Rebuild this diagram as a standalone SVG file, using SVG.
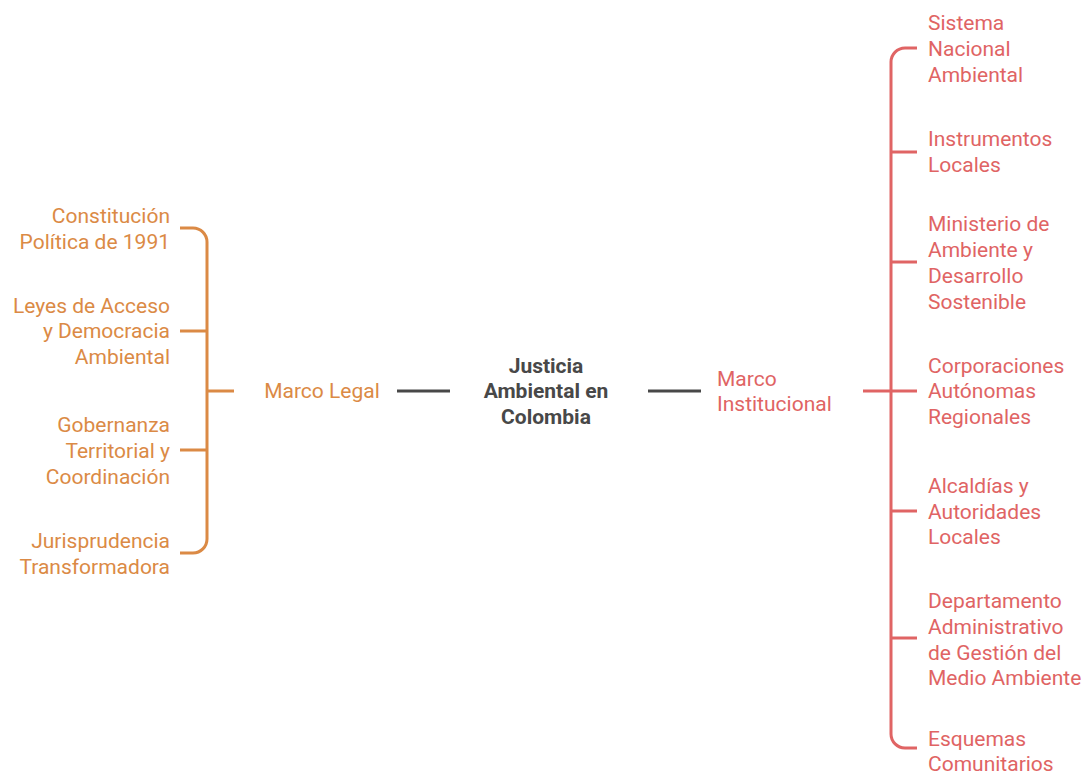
<svg xmlns="http://www.w3.org/2000/svg" width="1086" height="772" viewBox="0 0 1086 772">
<style>
text{font-family:Roboto,"Liberation Sans",sans-serif;font-size:21px;dominant-baseline:central}
.o{fill:#DB8A45}
.r{fill:#E06464}
.c{fill:#484848;font-weight:bold}
.lo{stroke:#DB8A45;stroke-width:3;fill:none}
.lr{stroke:#E06464;stroke-width:3;fill:none}
.lc{stroke:#484848;stroke-width:3;fill:none}
</style>
<rect width="1086" height="772" fill="#fff"/>
<g id="connectors">
<path class="lo" d="M180,228 H193 A14,14 0 0 1 207,242 V539 A14,14 0 0 1 193,553 H180"/>
<path class="lo" d="M180,331 H207 M180,450 H207 M207,391 H234"/>
<path class="lc" d="M397,391 H450 M648,391 H701"/>
<path class="lr" d="M917,48 H905 A14,14 0 0 0 891,62 V734 A14,14 0 0 0 905,748 H917"/>
<path class="lr" d="M891,152 H917 M891,262 H917 M863,391 H917 M891,511 H917 M891,638 H917"/>
</g>
<g id="center"><text class="c" text-anchor="middle" x="546" y="366">Justicia</text><text class="c" text-anchor="middle" x="546" y="391">Ambiental en</text><text class="c" text-anchor="middle" x="546" y="417">Colombia</text></g>
<g id="marco-legal"><text class="o" text-anchor="middle" x="322" y="391">Marco Legal</text></g>
<g id="marco-institucional"><text class="r" x="717" y="379">Marco</text><text class="r" x="717" y="404">Institucional</text></g>
<g id="constitucion" text-anchor="end"><text class="o" x="170" y="216">Constitución</text><text class="o" x="170" y="242">Política de 1991</text></g>
<g id="leyes" text-anchor="end"><text class="o" x="170" y="306">Leyes de Acceso</text><text class="o" x="170" y="331">y Democracia</text><text class="o" x="170" y="357">Ambiental</text></g>
<g id="gobernanza" text-anchor="end"><text class="o" x="170" y="425">Gobernanza</text><text class="o" x="170" y="451">Territorial y</text><text class="o" x="170" y="477">Coordinación</text></g>
<g id="jurisprudencia" text-anchor="end"><text class="o" x="170" y="541">Jurisprudencia</text><text class="o" x="170" y="567">Transformadora</text></g>
<g id="sina"><text class="r" x="928" y="23">Sistema</text><text class="r" x="928" y="49">Nacional</text><text class="r" x="928" y="75">Ambiental</text></g>
<g id="instrumentos"><text class="r" x="928" y="139">Instrumentos</text><text class="r" x="928" y="165">Locales</text></g>
<g id="ministerio"><text class="r" x="928" y="224">Ministerio de</text><text class="r" x="928" y="250">Ambiente y</text><text class="r" x="928" y="276">Desarrollo</text><text class="r" x="928" y="302">Sostenible</text></g>
<g id="corporaciones"><text class="r" x="928" y="366">Corporaciones</text><text class="r" x="928" y="391">Autónomas</text><text class="r" x="928" y="417">Regionales</text></g>
<g id="alcaldias"><text class="r" x="928" y="486">Alcaldías y</text><text class="r" x="928" y="512">Autoridades</text><text class="r" x="928" y="537">Locales</text></g>
<g id="departamento"><text class="r" x="928" y="601">Departamento</text><text class="r" x="928" y="627">Administrativo</text><text class="r" x="928" y="653">de Gestión del</text><text class="r" x="928" y="678">Medio Ambiente</text></g>
<g id="esquemas"><text class="r" x="928" y="739">Esquemas</text><text class="r" x="928" y="764">Comunitarios</text></g>
</svg>
